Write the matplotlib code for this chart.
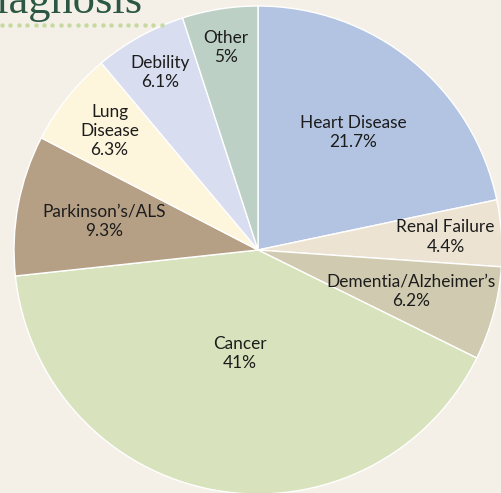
import matplotlib
matplotlib.use('Agg')
import matplotlib.pyplot as plt
import numpy as np

#data
categories = ['Heart Disease', 'Renal Failure', 'Dementia/Alzheimer\u2019s', 'Cancer',
              'Parkinson\u2019s/ALS', 'Lung\nDisease', 'Debility', 'Other']
shares = [21.7, 4.4, 6.2, 41, 9.3, 6.3, 6.1, 5]
pct_labels = ['21.7%', '4.4%', '6.2%', '41%', '9.3%', '6.3%', '6.1%', '5%']
colors = ['#b3c4e3', '#ede3d3', '#d0cbb0', '#d8e3bd', '#b6a085', '#fdf5dc', '#d8ddf0', '#bcd0c6']

#where the label sits along the slice (fraction of radius)
label_frac = [0.62, 0.77, 0.65, 0.43, 0.64, 0.78, 0.83, 0.84]

bg = '#f5f0e7'
W, H = 501, 493
fig = plt.figure(figsize=(W / 100, H / 100), dpi=100, facecolor=bg)
ax = fig.add_axes([0, 0, 1, 1])
ax.set_facecolor(bg)
ax.set_xlim(0, W)
ax.set_ylim(0, H)
ax.set_aspect('equal')
ax.axis('off')

cx, cy, r = 258, H - 250, 244
wedges, _ = ax.pie(shares, colors=colors, startangle=90, counterclock=False,
                   center=(cx, cy), radius=r,
                   wedgeprops=dict(edgecolor='white', linewidth=1))
ax.set_xlim(0, W)
ax.set_ylim(0, H)

font = ['Lato', 'DejaVu Sans']
for w, cat, pct, f in zip(wedges, categories, pct_labels, label_frac):
    mid = np.deg2rad((w.theta1 + w.theta2) / 2)
    x = cx + f * r * np.cos(mid)
    y = cy + f * r * np.sin(mid)
    ax.text(x, y, cat + '\n' + pct, ha='center', va='center', fontsize=12.4,
            family=font, color='#1c1c1c', linespacing=1.25)

#title, cut off at the top like the original
ax.text(143, H - 13, 'Diagnosis', ha='right', va='baseline', fontsize=32,
        family=['Liberation Serif'], color='#2b5744')
dots_x = np.arange(2, 162, 8.4)
ax.plot(dots_x, np.full(len(dots_x), H - 25), ls='none', marker='o', ms=3.2,
        color='#c6d9a2', mec='none')

fig.savefig('out.png', dpi=100, facecolor=bg)
